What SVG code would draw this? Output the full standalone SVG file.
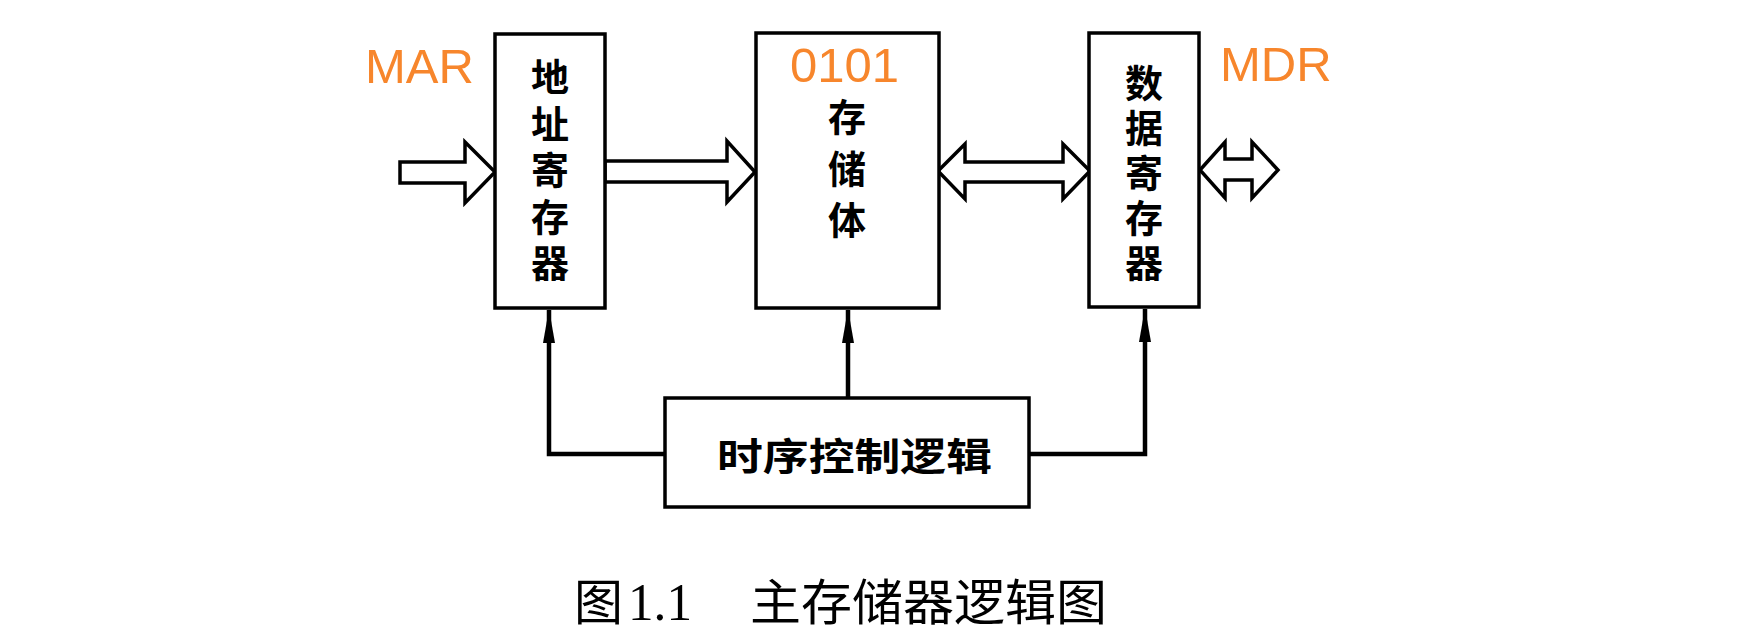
<svg xmlns="http://www.w3.org/2000/svg" width="1758" height="638" viewBox="0 0 1758 638">
<style>
.box{fill:#fff;stroke:#000;stroke-width:3.5}
.fat{fill:#fff;stroke:#000;stroke-width:3.5;stroke-linejoin:miter}
.ln{fill:none;stroke:#000;stroke-width:4.5}
.cn{font-family:"Noto Sans CJK SC","Noto Sans CJK JP",sans-serif;font-size:38px;font-weight:700;fill:#000}
.cv{writing-mode:vertical-rl;text-orientation:upright}
.or{font-family:"Liberation Sans",Arial,sans-serif;font-size:49px;fill:#F7862C}
.cap{font-family:"Noto Sans CJK SC",sans-serif;font-size:49px;fill:#000}
.capn{font-family:"Liberation Serif",serif;font-size:52px;fill:#000}
</style>
<defs>
<marker id="ah" viewBox="0 0 34 12" refX="33" refY="6" markerWidth="34" markerHeight="12" markerUnits="userSpaceOnUse" orient="auto">
<path d="M0,0 L34,6 L0,12 Z" fill="#000"/>
</marker>
</defs>
<rect width="1758" height="638" fill="#fff"/>
<g id="connectors">
<polygon class="fat" points="400,162 465,162 465,142 495,172 465,203 465,183 400,183"/>
<polygon class="fat" points="605,161 727,161 727,141 755,172 727,202 727,182 605,182"/>
<polygon class="fat" points="938,171 965,144 965,162 1063,162 1063,144 1090,171 1063,199 1063,182 965,182 965,199"/>
<polygon class="fat" points="1200,170 1225,142 1225,159 1252,159 1252,142 1278,170 1252,198 1252,180 1225,180 1225,198"/>
<path class="ln" d="M665,454 H549 V310" marker-end="url(#ah)"/>
<path class="ln" d="M848,398 V310" marker-end="url(#ah)"/>
<path class="ln" d="M1029,454 H1145 V309" marker-end="url(#ah)"/>
</g>
<g id="mar">
<rect class="box" x="495" y="34" width="110" height="274"/>
<text class="cn cv" x="550" y="58" letter-spacing="8.5">地址寄存器</text>
</g>
<g id="memory">
<rect class="box" x="756" y="33" width="183" height="275"/>
<text class="cn cv" x="847" y="98" letter-spacing="13.5">存储体</text>
</g>
<g id="mdr">
<rect class="box" x="1089" y="33" width="110" height="274"/>
<text class="cn cv" x="1144" y="64" letter-spacing="7">数据寄存器</text>
</g>
<g id="timing">
<rect class="box" x="665" y="398" width="364" height="109"/>
<text class="cn" x="717" y="470" font-size="44" textLength="275" lengthAdjust="spacingAndGlyphs">时序控制逻辑</text>
</g>
<g id="labels">
<text class="or" x="365" y="83">MAR</text>
<text class="or" x="790" y="82">0101</text>
<text class="or" x="1220" y="81">MDR</text>
</g>
<g id="caption">
<text class="cap" x="574" y="620">图</text>
<text class="capn" x="628" y="620" textLength="64" lengthAdjust="spacingAndGlyphs">1.1</text>
<text class="cap" x="750" y="620" textLength="357" lengthAdjust="spacingAndGlyphs">主存储器逻辑图</text>
</g>
</svg>
